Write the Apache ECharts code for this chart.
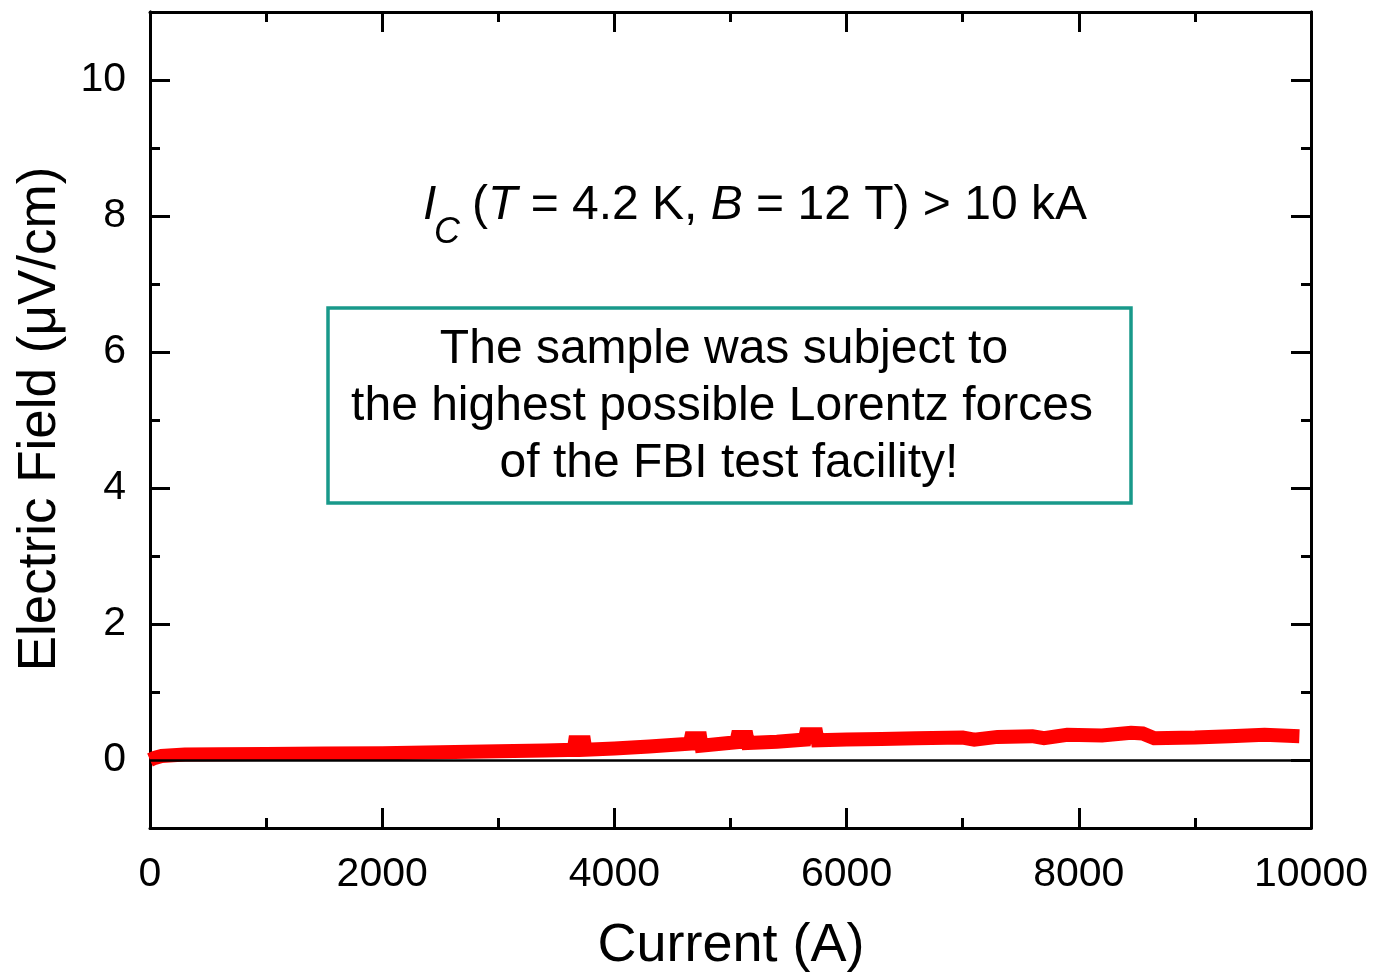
<!DOCTYPE html>
<html>
<head>
<meta charset="utf-8">
<script src="https://cdn.jsdelivr.net/npm/echarts@6/dist/echarts.min.js"></script>
<style>html,body{margin:0;padding:0;background:#fff}#c{width:1377px;height:977px}</style>
</head>
<body>
<div id="c"></div>
<script>
// Current (A)
const currentA = [0, 40, 100, 300, 600, 1000, 1500, 2000, 2500, 3000, 3400, 3650, 3660, 3740, 3750, 4000, 4300, 4650, 4660, 4740, 4750, 5050, 5060, 5140, 5150, 5400, 5640, 5650, 5740, 5750, 6000, 6300, 6600, 7000, 7100, 7300, 7600, 7700, 7900, 8200, 8450, 8550, 8650, 9000, 9300, 9600, 9900];
// Electric field (µV/cm)
const fieldUVcm = [0.0, 0.03, 0.06, 0.08, 0.085, 0.09, 0.095, 0.1, 0.115, 0.13, 0.14, 0.15, 0.26, 0.26, 0.15, 0.17, 0.2, 0.24, 0.32, 0.32, 0.21, 0.26, 0.34, 0.34, 0.25, 0.27, 0.3, 0.38, 0.38, 0.29, 0.3, 0.31, 0.32, 0.33, 0.3, 0.34, 0.35, 0.32, 0.37, 0.36, 0.4, 0.39, 0.32, 0.33, 0.35, 0.37, 0.35];
const xTicks = [0, 2000, 4000, 6000, 8000, 10000];
const yMajor = [0, 2, 4, 6, 8, 10];
const yMinor = [-1, 1, 3, 5, 7, 9, 11];
const xLabel = 'Current (A)';
const yLabel = 'Electric Field (\u03bcV/cm)';
const boxLines = ['The sample was subject to', 'the highest possible Lorentz forces', 'of the FBI test facility!'];

const FONT = 'Liberation Sans, Arial, sans-serif';
const chart = echarts.init(document.getElementById('c'));
const seriesData = currentA.map((x, i) => [x, fieldUVcm[i]]);

const lineStyle = { color: '#000', width: 3 };
function xAx(pos, labels) {
  return {
    type: 'value', position: pos, min: 0, max: 10000, interval: 2000,
    axisLine: { show: true, onZero: false, lineStyle },
    axisTick: { show: true, inside: true, length: 20, lineStyle: { color: '#000', width: 3 } },
    minorTick: { show: true, splitNumber: 2, length: 10, lineStyle: { color: '#000', width: 3 } },
    splitLine: { show: false }, minorSplitLine: { show: false },
    axisLabel: { show: labels, fontSize: 41, color: '#000', fontFamily: FONT, margin: 26, formatter: v => String(v) }
  };
}
function yAx(pos, vals, len, labels) {
  return {
    type: 'value', position: pos, min: -1, max: 11,
    axisLine: { show: true, onZero: false, lineStyle },
    axisTick: { show: true, inside: true, length: len, customValues: vals, lineStyle: { color: '#000', width: 3 } },
    splitLine: { show: false },
    axisLabel: { show: labels, customValues: vals, fontSize: 41, color: '#000', fontFamily: FONT, margin: 24, formatter: v => String(v) }
  };
}

chart.setOption({
  animation: false,
  backgroundColor: '#fff',
  grid: { left: 150, right: 66, top: 12, bottom: 149, containLabel: false },
  xAxis: [xAx('bottom', true), xAx('top', false)],
  yAxis: [yAx('left', yMajor, 20, true), yAx('left', yMinor, 10, false), yAx('right', yMajor, 20, false), yAx('right', yMinor, 10, false)],
  series: [{
    type: 'line', data: seriesData, showSymbol: false, xAxisIndex: 0, yAxisIndex: 0,
    lineStyle: { color: '#ff0000', width: 14, cap: 'butt', join: 'miter' }, z: 2,
    markLine: {
      silent: true, symbol: ['none', 'none'], label: { show: false },
      lineStyle: { color: '#000', width: 2.5, type: 'solid' },
      data: [{ yAxis: 0 }], z: 3
    }
  }],
  graphic: [
    { type: 'text', x: 731, y: 946, style: { text: xLabel, font: '54px ' + FONT, fill: '#000', align: 'center', verticalAlign: 'middle' } },
    { type: 'text', x: 40, y: 419, rotation: Math.PI / 2, style: { text: yLabel, font: '53px ' + FONT, fill: '#000', align: 'center', verticalAlign: 'middle' } },
    { type: 'rect', shape: { x: 328, y: 308, width: 803, height: 195 }, style: { fill: '#fff', stroke: '#18998a', lineWidth: 3.5 }, z: 10 },
    { type: 'text', x: 724, y: 350, style: { text: boxLines[0], font: '48px ' + FONT, fill: '#000', align: 'center', verticalAlign: 'middle' }, z: 11 },
    { type: 'text', x: 722, y: 407, style: { text: boxLines[1], font: '48px ' + FONT, fill: '#000', align: 'center', verticalAlign: 'middle' }, z: 11 },
    { type: 'text', x: 729, y: 464, style: { text: boxLines[2], font: '48px ' + FONT, fill: '#000', align: 'center', verticalAlign: 'middle' }, z: 11 },
    { type: 'text', x: 423, y: 206, style: { text: 'I', font: 'italic 48px ' + FONT, fill: '#000', align: 'left', verticalAlign: 'middle' }, z: 11 },
    { type: 'text', x: 434, y: 233, style: { text: 'C', font: 'italic 36px ' + FONT, fill: '#000', align: 'left', verticalAlign: 'middle' }, z: 11 },
    { type: 'text', x: 472, y: 206, style: {
        text: '{n|(}{i|T}{n| = 4.2 K, }{i|B}{n| = 12 T) > 10 kA}', align: 'left', verticalAlign: 'middle',
        rich: { n: { font: '48px ' + FONT, fill: '#000' }, i: { font: 'italic 48px ' + FONT, fill: '#000' } }
      }, z: 11 }
  ]
});
</script>
</body>
</html>
